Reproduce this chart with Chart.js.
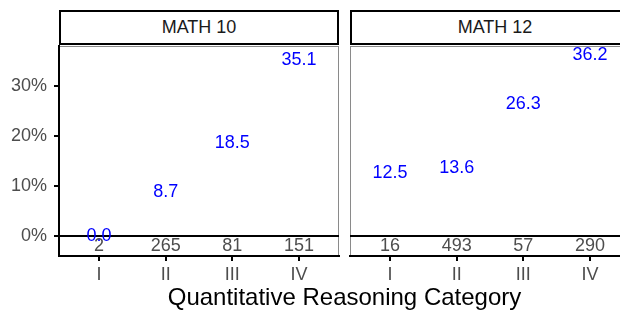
<!DOCTYPE html>
<html>
<head>
<meta charset="utf-8">
<script src="https://cdn.jsdelivr.net/npm/chart.js@4.4.1/dist/chart.umd.min.js"></script>
<style>
  body { margin: 0; width: 620px; height: 312px; overflow: hidden; background: #fff; position: relative;
         font-family: "Liberation Sans", Arial, sans-serif; }
  canvas { position: absolute; top: 0; }
  .strip { position: absolute; top: 10px; height: 35px; box-sizing: border-box; border: 2px solid #000;
           background: #fff; color: #1a1a1a; font-size: 18px; display: flex; align-items: center; justify-content: center; }
  #xtitle { position: absolute; left: 0; width: 689px; top: 283px; text-align: center; font-size: 24px; color: #000; }
</style>
</head>
<body>
<canvas id="math10" width="345" height="312" style="left:0"></canvas>
<canvas id="math12" width="300" height="312" style="left:340px"></canvas>
<div class="strip" style="left:59px; width:280px">MATH 10</div>
<div class="strip" style="left:350px; width:290px">MATH 12</div>
<div id="xtitle">Quantitative Reasoning Category</div>
<script>
const categories = ['I', 'II', 'III', 'IV'];
const math10Pct = [0.0, 8.7, 18.5, 35.1];
const math12Pct = [12.5, 13.6, 26.3, 36.2];
const math10N = [2, 265, 81, 151];
const math12N = [16, 493, 57, 290];
const yTicks = [0, 10, 20, 30];
const countY = -2;   // where the n labels sit, like y = -0.02 in the original

Chart.defaults.font.family = '"Liberation Sans", Arial, sans-serif';

// panel border, zero line and text labels
const facetPlugin = {
    id: 'facet',
    beforeDraw(chart) {
        const a = chart.chartArea, ctx = chart.ctx;
        ctx.save();
        ctx.strokeStyle = '#8a8a8a';
        ctx.lineWidth = 1;
        ctx.strokeRect(a.left + 0.5, a.top + 0.5, a.right - a.left - 1, a.bottom - a.top - 1);
        ctx.restore();
    },
    beforeDatasetsDraw(chart) {
        const a = chart.chartArea, ctx = chart.ctx;
        const y0 = chart.scales.y.getPixelForValue(0);
        ctx.save();
        ctx.strokeStyle = '#000';
        ctx.lineWidth = 2;
        ctx.beginPath();
        ctx.moveTo(a.left, y0);
        ctx.lineTo(a.right, y0);
        ctx.stroke();
        ctx.restore();
    },
    afterDatasetsDraw(chart) {
        const ctx = chart.ctx;
        ctx.save();
        ctx.font = '18px "Liberation Sans", Arial, sans-serif';
        ctx.textAlign = 'center';
        ctx.textBaseline = 'middle';
        chart.data.datasets.forEach((ds, i) => {
            ctx.fillStyle = ds.textColor;
            chart.getDatasetMeta(i).data.forEach((pt, j) => {
                ctx.fillText(ds.textLabels[j], pt.x, pt.y);
            });
        });
        ctx.restore();
    }
};

function makePanel(id, pct, counts, showY, padLeft, padRight) {
    new Chart(document.getElementById(id), {
        type: 'scatter',
        data: {
            datasets: [
                {
                    data: pct.map((v, i) => ({ x: i + 1, y: v })),
                    pointRadius: 0,
                    textLabels: pct.map(v => v.toFixed(1)),
                    textColor: '#0000ff'
                },
                {
                    data: counts.map((v, i) => ({ x: i + 1, y: countY })),
                    pointRadius: 0,
                    textLabels: counts.map(String),
                    textColor: '#4d4d4d'
                }
            ]
        },
        options: {
            responsive: false,
            animation: false,
            devicePixelRatio: 1,
            layout: { padding: { top: 46, bottom: 22, left: padLeft, right: padRight } },
            plugins: {
                legend: { display: false },
                tooltip: { enabled: false },
            },
            scales: {
                x: {
                    type: 'linear',
                    min: 0.4,
                    max: 4.6,
                    afterBuildTicks: s => { s.ticks = categories.map((c, i) => ({ value: i + 1 })); },
                    afterFit: s => { s.height = 34; },
                    ticks: {
                        callback: (v, i) => categories[i],
                        color: '#4d4d4d',
                        font: { size: 18 },
                        padding: 3,
                        maxRotation: 0,
                        autoSkip: false
                    },
                    grid: { drawOnChartArea: false, color: '#000', tickLength: 5, lineWidth: 2 },
                    border: { color: '#000', width: 2 }
                },
                y: {
                    display: showY,
                    min: -4,
                    max: 38,
                    afterBuildTicks: s => { s.ticks = yTicks.map(v => ({ value: v })); },
                    afterFit: s => { s.width = showY ? 59 : 0; },
                    ticks: {
                        callback: v => v + '%',
                        color: '#4d4d4d',
                        font: { size: 18 },
                        padding: 7
                    },
                    grid: { drawOnChartArea: false, color: '#000', tickLength: 5, lineWidth: 2 },
                    border: { color: '#000', width: 2 }
                }
            }
        },
        plugins: [facetPlugin]
    });
}

makePanel('math10', math10Pct, math10N, true, 0, 6);
makePanel('math12', math12Pct, math12N, false, 10, 10);
</script>
</body>
</html>
